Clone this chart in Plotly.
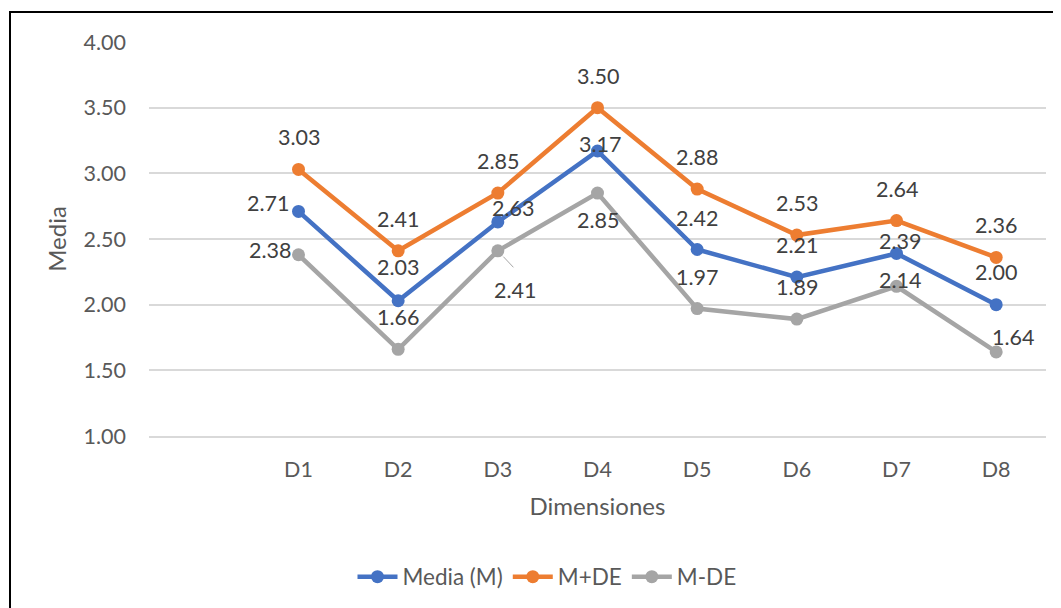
import plotly.graph_objects as go

categories = ["D1", "D2", "D3", "D4", "D5", "D6", "D7", "D8"]
media = [2.71, 2.03, 2.63, 3.17, 2.42, 2.21, 2.39, 2.00]
m_plus_de = [3.03, 2.41, 2.85, 3.50, 2.88, 2.53, 2.64, 2.36]
m_minus_de = [2.38, 1.66, 2.41, 2.85, 1.97, 1.89, 2.14, 1.64]
series_names = ["Media (M)", "M+DE", "M-DE"]
y_ticks = [1.0, 1.5, 2.0, 2.5, 3.0, 3.5, 4.0]

colors = ["#4472C4", "#ED7D31", "#A5A5A5"]
FONT = "Lato, 'Open Sans', sans-serif"
LBL = 21.5

# label offsets in pixels (dx, dy) relative to each point
off_media = [(-31, -8), (0, -34), (15, -14), (2, -7), (0, -32), (0, -32), (3, -12), (0, -33)]
off_plus = [(0, -32)] * 8
off_minus = [(-29, -5), (0, -32), (17, 39), (0, 27), (0, -32), (0, -32), (3, -6), (17, -15)]

# page offset (browser body margin)
PAD = 8
L, T, PW, PH = 149 - PAD, 42 - PAD, 897, 394
W, H = 1061, 608

fig = go.Figure()
all_series = [media, m_plus_de, m_minus_de]
for name, vals, col in zip(series_names, all_series, colors):
    fig.add_trace(go.Scatter(
        x=categories, y=vals, name=name, mode="lines+markers",
        line=dict(color=col, width=4.5),
        marker=dict(color=col, size=13),
    ))

annotations = []
for vals, offs in zip(all_series, [off_media, off_plus, off_minus]):
    for c, v, (dx, dy) in zip(categories, vals, offs):
        annotations.append(dict(
            x=c, y=v, xref="x", yref="y", text=f"{v:.2f}", showarrow=False,
            xshift=dx, yshift=-dy, font=dict(family=FONT, size=LBL, color="#404040"),
        ))
# leader line for D3 M-DE label
annotations.append(dict(
    x="D3", y=m_minus_de[2], xref="x", yref="y", ax=17, ay=18,
    text="", showarrow=True, arrowhead=0,
    arrowwidth=1, arrowcolor="#A5A5A5", standoff=8,
))

fig.update_layout(
    width=W, height=H,
    margin=dict(l=L, r=W - L - PW, t=T, b=H - T - PH, autoexpand=False),
    paper_bgcolor="white", plot_bgcolor="white",
    font=dict(family=FONT, size=LBL, color="#595959"),
    annotations=annotations,
    showlegend=True,
    legend=dict(orientation="h", xref="container", yref="container",
                x=(547 - PAD) / W, xanchor="center", y=1 - (577 - PAD) / H, yanchor="middle",
                font=dict(family=FONT, size=22.5, color="#595959"),
                itemwidth=40, tracegroupgap=0),
    shapes=[dict(type="rect", xref="paper", yref="paper",
                 x0=(10 - PAD - L) / PW, x1=1.2, y0=-0.6, y1=(T + PH - (12 - PAD)) / PH,
                 line=dict(color="black", width=2), layer="below")],
)
fig.update_xaxes(
    type="category", categoryorder="array", categoryarray=categories,
    range=[-1.5, 7.5], showgrid=False, showline=True, linecolor="#d9d9d9", linewidth=1.5,
    ticks="", ticklabelstandoff=13, automargin=False,
    tickfont=dict(family=FONT, size=LBL, color="#595959"),
    title=dict(text="Dimensiones", font=dict(family=FONT, size=24, color="#595959"), standoff=18),
    zeroline=False,
)
fig.update_yaxes(
    range=[1.0, 4.0], tickvals=y_ticks, ticktext=[f"{t:.2f}" for t in y_ticks],
    showgrid=True, gridcolor="#d9d9d9", gridwidth=1.5, zeroline=False,
    ticks="", ticklabelstandoff=22, automargin=False,
    tickfont=dict(family=FONT, size=LBL, color="#595959"),
    title=dict(text="Media", font=dict(family=FONT, size=24, color="#595959"), standoff=10),
)

fig.write_html("out.html")
